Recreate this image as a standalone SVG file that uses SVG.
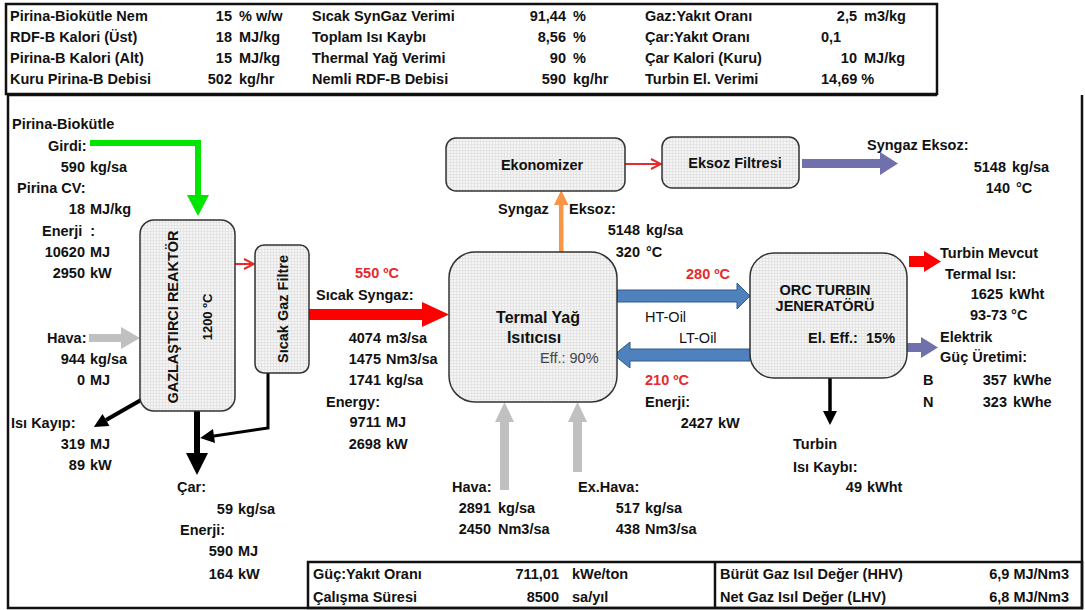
<svg xmlns="http://www.w3.org/2000/svg" width="1085" height="610" viewBox="0 0 1085 610">
<defs>
<style>
text{font-family:"Liberation Sans",Arial,sans-serif;font-size:14.5px;font-weight:bold;fill:#111;white-space:pre}
.n{font-weight:normal}
.e{text-anchor:end}
.m{text-anchor:middle}
.red{fill:#e52b2b}
.gr{fill:#444;font-weight:normal}
.big{font-size:16px}
.box{fill:url(#grid);stroke:#333;stroke-width:1.5}
.frame{fill:none;stroke:#111;stroke-width:2.5}
.blk{stroke:#000;fill:none}
.gray{fill:#c0c0c0}
.blue{fill:#4f81bd;stroke:#2e5b8c;stroke-width:1}
.pur{fill:#7070ad}
.thinred{stroke:#e52b2b;stroke-width:2;fill:none}
</style>
<pattern id="grid" width="3" height="3" patternUnits="userSpaceOnUse">
<rect width="3" height="3" fill="#f4f4f4"/>
<path d="M0,0.5H3M0.5,0V3" stroke="#dcdcdc" stroke-width="0.6"/>
</pattern>
<marker id="ah" viewBox="0 0 10 10" refX="0" refY="5" markerWidth="16" markerHeight="14" markerUnits="userSpaceOnUse" orient="auto"><path d="M0,0L10,5L0,10z" fill="#000"/></marker>
<marker id="chev" viewBox="0 0 12 12" refX="11" refY="6" markerWidth="12" markerHeight="12" markerUnits="userSpaceOnUse" orient="auto"><path d="M1,1L11,6L1,11" fill="none" stroke="#e52b2b" stroke-width="2"/></marker>
</defs>
<rect width="1085" height="610" fill="#fff"/>

<g id="frames">
<rect class="frame" x="6" y="4" width="931" height="90"/>
<path class="frame" d="M937,95H8V608H1082V95"/>
<rect class="frame" x="308" y="562" width="774" height="46"/>
<line class="frame" x1="715" y1="562" x2="715" y2="608"/>
</g>

<g id="top-table">
<text x="10" y="21">Pirina-Biokütle Nem</text>
<text x="10" y="42">RDF-B Kalori (Üst)</text>
<text x="10" y="63">Pirina-B Kalori (Alt)</text>
<text x="10" y="84">Kuru Pirina-B Debisi</text>
<text class="e" x="232" y="21">15</text><text x="239" y="21">% w/w</text>
<text class="e" x="232" y="42">18</text><text x="239" y="42">MJ/kg</text>
<text class="e" x="232" y="63">15</text><text x="239" y="63">MJ/kg</text>
<text class="e" x="232" y="84">502</text><text x="239" y="84">kg/hr</text>
<text x="312" y="21">Sıcak SynGaz Verimi</text>
<text x="312" y="42">Toplam Isı Kaybı</text>
<text x="312" y="63">Thermal Yağ Verimi</text>
<text x="312" y="84">Nemli RDF-B Debisi</text>
<text class="e" x="566" y="21">91,44</text><text x="573" y="21">%</text>
<text class="e" x="566" y="42">8,56</text><text x="573" y="42">%</text>
<text class="e" x="566" y="63">90</text><text x="573" y="63">%</text>
<text class="e" x="566" y="84">590</text><text x="573" y="84">kg/hr</text>
<text x="645" y="21">Gaz:Yakıt Oranı</text>
<text x="645" y="42">Çar:Yakıt Oranı</text>
<text x="645" y="63">Çar Kalori (Kuru)</text>
<text x="645" y="84">Turbin El. Verimi</text>
<text class="e" x="857" y="21">2,5</text><text x="864" y="21">m3/kg</text>
<text x="821" y="42">0,1</text>
<text class="e" x="857" y="63">10</text><text x="864" y="63">MJ/kg</text>
<text x="821" y="84">14,69 %</text>
</g>

<g id="bottom-table">
<text x="313" y="579">Güç:Yakıt Oranı</text>
<text x="313" y="602">Çalışma Süresi</text>
<text class="e" x="559" y="579">711,01</text><text x="572" y="579">kWe/ton</text>
<text class="e" x="559" y="602">8500</text><text x="572" y="602">sa/yıl</text>
<text x="720" y="579">Bürüt Gaz Isıl Değer (HHV)</text>
<text x="720" y="602">Net Gaz Isıl Değer (LHV)</text>
<text class="e" x="1069" y="579">6,9 MJ/Nm3</text>
<text class="e" x="1069" y="602">6,8 MJ/Nm3</text>
</g>

<g id="connectors">
<path d="M90,143H198V197" fill="none" stroke="#00e600" stroke-width="6"/>
<polygon points="187,195 209,195 198,216" fill="#00e600"/>
<rect class="gray" x="89" y="334" width="34" height="8"/>
<polygon class="gray" points="121,327 140,338 121,349"/>
<line class="thinred" x1="235" y1="264" x2="254" y2="264" marker-end="url(#chev)"/>
<line class="blk" x1="141" y1="400" x2="106" y2="420" stroke-width="4" marker-end="url(#ah)"/>
<line class="blk" x1="197" y1="411" x2="197" y2="455" stroke-width="6"/>
<polygon points="186,453 208,453 197,475" fill="#000"/>
<polyline class="blk" points="268,373 268,428 214,436" stroke-width="3" marker-end="url(#ah)"/>
<rect x="309" y="309" width="116" height="11" fill="#ff0000"/>
<polygon points="422,302 449,314.5 422,327" fill="#ff0000"/>
<rect x="559" y="203" width="4.5" height="49" fill="#f79646"/>
<polygon points="554,205 568.5,205 561.2,190" fill="#f79646"/>
<line class="thinred" x1="625" y1="164" x2="661" y2="164" marker-end="url(#chev)"/>
<rect class="pur" x="802" y="159" width="80" height="9"/>
<polygon class="pur" points="880,152 898,163.5 880,175"/>
<polygon class="blue" points="617,290 737,290 737,283 750,296 737,309 737,302 617,302"/>
<polygon class="blue" points="750,349 630,349 630,342 614,355 630,368 630,361 750,361"/>
<rect class="gray" x="500" y="420" width="9" height="70"/>
<polygon class="gray" points="495,422 514,422 504.5,402"/>
<rect class="gray" x="573" y="420" width="9" height="52"/>
<polygon class="gray" points="568,422 587,422 577.5,402"/>
<rect x="909" y="256" width="17" height="11" fill="#ff0000"/>
<polygon points="924,251 941,261.5 924,272" fill="#ff0000"/>
<rect class="pur" x="907" y="343" width="16" height="9"/>
<polygon class="pur" points="921,337 938,347.5 921,358"/>
<line class="blk" x1="830" y1="378" x2="830" y2="411" stroke-width="3.5" marker-end="url(#ah)"/>
</g>

<g id="reactor">
<rect class="box" x="140" y="220" width="95" height="191" rx="14"/>
<text class="m" transform="translate(178,317) rotate(-90)">GAZLAŞTIRCI REAKTÖR</text>
<text class="m" style="font-size:13px" transform="translate(212,317) rotate(-90)">1200 ºC</text>
</g>
<g id="hot-gas-filter">
<rect class="box" x="255" y="245" width="54" height="128" rx="9"/>
<text class="m" transform="translate(288,309) rotate(-90)">Sıcak Gaz Filtre</text>
</g>
<g id="thermal-oil-heater">
<rect class="box" x="449" y="252" width="168" height="150" rx="26"/>
<text class="m big" x="538" y="323">Termal Yağ</text>
<text class="m big" x="534" y="343">Isıtıcısı</text>
<text class="gr" x="540" y="363">Eff.: 90%</text>
</g>
<g id="economizer">
<rect class="box" x="446" y="138" width="179" height="53" rx="10"/>
<text class="m" x="542" y="170">Ekonomizer</text>
</g>
<g id="exhaust-filter">
<rect class="box" x="662" y="137" width="137" height="51" rx="10"/>
<text class="m" x="735" y="168">Eksoz Filtresi</text>
</g>
<g id="orc">
<rect class="box" x="750" y="253" width="157" height="125" rx="24"/>
<text class="m" x="825" y="295">ORC TURBIN</text>
<text class="m" x="825" y="311">JENERATÖRÜ</text>
<text x="808" y="343">El. Eff.:  15%</text>
</g>

<g id="labels">
<text x="12" y="129">Pirina-Biokütle</text>
<text x="48" y="151">Girdi:</text>
<text class="e" x="85" y="172">590</text><text x="90" y="172">kg/sa</text>
<text x="17" y="193">Pirina CV:</text>
<text class="e" x="85" y="214">18</text><text x="90" y="214">MJ/kg</text>
<text x="42" y="236">Enerji  :</text>
<text class="e" x="85" y="257">10620</text><text x="90" y="257">MJ</text>
<text class="e" x="85" y="278">2950</text><text x="90" y="278">kW</text>
<text x="47" y="343">Hava:</text>
<text class="e" x="85" y="364">944</text><text x="90" y="364">kg/sa</text>
<text class="e" x="85" y="385">0</text><text x="90" y="385">MJ</text>
<text x="11" y="428">Isı Kayıp:</text>
<text class="e" x="85" y="449">319</text><text x="90" y="449">MJ</text>
<text class="e" x="85" y="470">89</text><text x="90" y="470">kW</text>

<text x="177" y="492">Çar:</text>
<text class="e" x="233" y="514">59</text><text x="238" y="514">kg/sa</text>
<text x="180" y="535">Enerji:</text>
<text class="e" x="233" y="556">590</text><text x="238" y="556">MJ</text>
<text class="e" x="233" y="579">164</text><text x="238" y="579">kW</text>

<text class="red" x="355" y="278">550 ºC</text>
<text x="316" y="300">Sıcak Syngaz:</text>
<text class="e" x="381" y="343">4074</text><text x="386" y="343">m3/sa</text>
<text class="e" x="381" y="364">1475</text><text x="386" y="364">Nm3/sa</text>
<text class="e" x="381" y="385">1741</text><text x="386" y="385">kg/sa</text>
<text x="326" y="407">Energy:</text>
<text class="e" x="381" y="427">9711</text><text x="386" y="427">MJ</text>
<text class="e" x="381" y="449">2698</text><text x="386" y="449">kW</text>

<text x="498" y="214">Syngaz</text>
<text x="569" y="214">Eksoz:</text>
<text class="e" x="640" y="235">5148</text><text x="646" y="235">kg/sa</text>
<text class="e" x="640" y="257">320</text><text x="646" y="257">°C</text>

<text x="867" y="150">Syngaz Eksoz:</text>
<text class="e" x="1006" y="172">5148</text><text x="1012" y="172">kg/sa</text>
<text class="e" x="1010" y="193">140</text><text x="1016" y="193">°C</text>

<text class="red" x="686" y="279">280 ºC</text>
<text class="n" x="645" y="322">HT-Oil</text>
<text class="n" x="679" y="343">LT-Oil</text>
<text class="red" x="645" y="385">210 ºC</text>
<text x="645" y="407">Enerji:</text>
<text class="e" x="713" y="428">2427</text><text x="718" y="428">kW</text>

<text x="940" y="258">Turbin Mevcut</text>
<text x="945" y="279">Termal Isı:</text>
<text class="e" x="1003" y="299">1625</text><text x="1009" y="299">kWht</text>
<text x="970" y="320">93-73 °C</text>
<text x="940" y="342">Elektrik</text>
<text x="940" y="362">Güç Üretimi:</text>
<text x="923" y="385">B</text>
<text class="e" x="1007" y="385">357</text><text x="1013" y="385">kWhe</text>
<text x="923" y="407">N</text>
<text class="e" x="1007" y="407">323</text><text x="1013" y="407">kWhe</text>

<text x="793" y="449">Turbin</text>
<text x="793" y="472">Isı Kaybı:</text>
<text class="e" x="862" y="492">49</text><text x="867" y="492">kWht</text>

<text x="452" y="492">Hava:</text>
<text class="e" x="491" y="513">2891</text><text x="498" y="513">kg/sa</text>
<text class="e" x="491" y="534">2450</text><text x="498" y="534">Nm3/sa</text>
<text x="578" y="492">Ex.Hava:</text>
<text class="e" x="640" y="513">517</text><text x="645" y="513">kg/sa</text>
<text class="e" x="640" y="534">438</text><text x="645" y="534">Nm3/sa</text>
</g>
</svg>
